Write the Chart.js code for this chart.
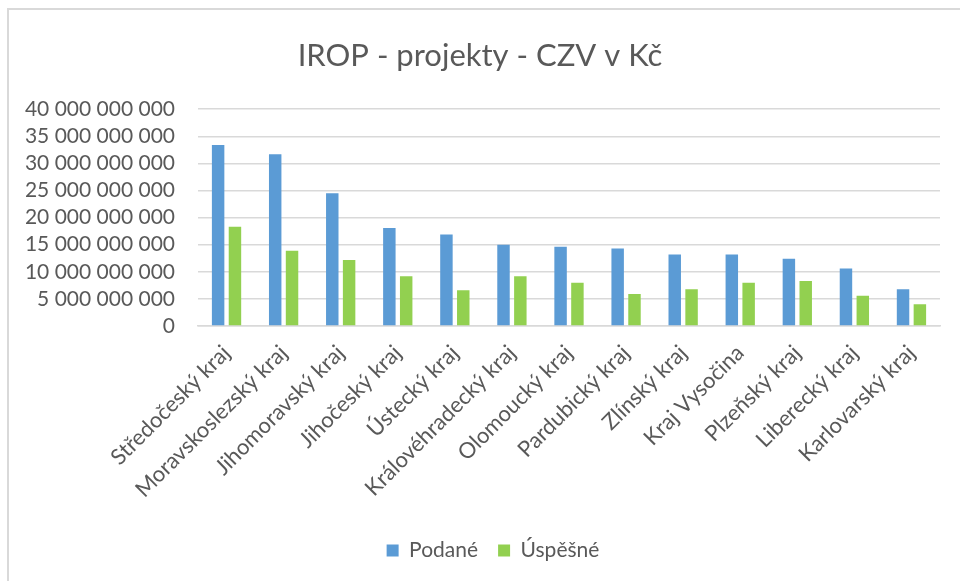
<!DOCTYPE html>
<html>
<head>
<meta charset="utf-8">
<script src="https://cdn.jsdelivr.net/npm/chart.js@4/dist/chart.umd.min.js"></script>
<style>
  html, body { margin: 0; padding: 0; background: #fff; }
  #wrap { position: relative; width: 960px; height: 581px; }
  #frame { position: absolute; left: 7px; top: 8px; right: 0; bottom: 0;
           border-top: 2px solid #d9d9d9; border-left: 2px solid #d9d9d9; }
  canvas { position: absolute; left: 0; top: 0; }
</style>
</head>
<body>
<div id="wrap">
  <div id="frame"></div>
  <canvas id="BarChart" width="960" height="581"></canvas>
</div>
<script>
// kraje
var categories = ['Středočeský kraj', 'Moravskoslezský kraj', 'Jihomoravský kraj', 'Jihočeský kraj',
    'Ústecký kraj', 'Královéhradecký kraj', 'Olomoucký kraj', 'Pardubický kraj', 'Zlínský kraj',
    'Kraj Vysočina', 'Plzeňský kraj', 'Liberecký kraj', 'Karlovarský kraj'];

// CZV v Kč
var podane = [33.4e9, 31.7e9, 24.5e9, 18.1e9, 16.9e9, 15.0e9, 14.6e9, 14.3e9, 13.2e9, 13.2e9, 12.4e9, 10.6e9, 6.8e9];
var uspesne = [18.3e9, 13.9e9, 12.2e9, 9.2e9, 6.6e9, 9.2e9, 8.0e9, 5.9e9, 6.8e9, 8.0e9, 8.3e9, 5.6e9, 4.0e9];

var yMax = 40e9;
var yStep = 5e9;

var textColor = '#595959';
var gridColor = '#d9d9d9';
Chart.defaults.font.family = 'Lato, "Open Sans", sans-serif';

function spaced(v) {
    return Math.round(v).toString().replace(/\B(?=(\d{3})+(?!\d))/g, ' ');
}

// legend in the original sits a bit right of centre
var legendShift = {
    id: 'legendShift',
    afterLayout: function (chart) {
        chart.legend.left += 13;
        chart.legend.right += 13;
    }
};

var ctx = document.getElementById('BarChart').getContext('2d');
var chart = new Chart(ctx, {
    type: 'bar',
    data: {
        labels: categories,
        datasets: [
            { label: 'Podané', backgroundColor: '#5b9bd5', data: podane },
            { label: 'Úspěšné', backgroundColor: '#92d050', data: uspesne }
        ]
    },
    options: {
        responsive: false,
        animation: false,
        categoryPercentage: 0.59,
        barPercentage: 0.74,
        layout: { padding: { left: 20, right: 20, top: 0, bottom: 10 } },
        plugins: {
            title: {
                display: true,
                text: 'IROP - projekty - CZV v Kč',
                color: textColor,
                font: { size: 31, weight: 'normal' },
                padding: { top: 37, bottom: 35 }
            },
            legend: {
                position: 'bottom',
                labels: {
                    color: textColor,
                    font: { size: 21 },
                    boxWidth: 12,
                    boxHeight: 12,
                    padding: 20
                }
            },
            tooltip: { enabled: false }
        },
        scales: {
            x: {
                grid: { display: false, drawTicks: false },
                border: { color: gridColor, width: 1.5 },
                ticks: { color: textColor, font: { size: 22 }, minRotation: 45, maxRotation: 45, padding: 14 },
                afterFit: function (s) { s.height = 194; }
            },
            y: {
                min: 0,
                max: yMax,
                grid: { color: gridColor, lineWidth: 1.5, drawTicks: false },
                border: { display: false },
                ticks: {
                    stepSize: yStep,
                    autoSkip: false,
                    color: textColor,
                    font: { size: 21 },
                    padding: 23,
                    callback: function (v) { return spaced(v); }
                },
                afterFit: function (s) { s.width = 178; }
            }
        }
    },
    plugins: [legendShift]
});
</script>
</body>
</html>
